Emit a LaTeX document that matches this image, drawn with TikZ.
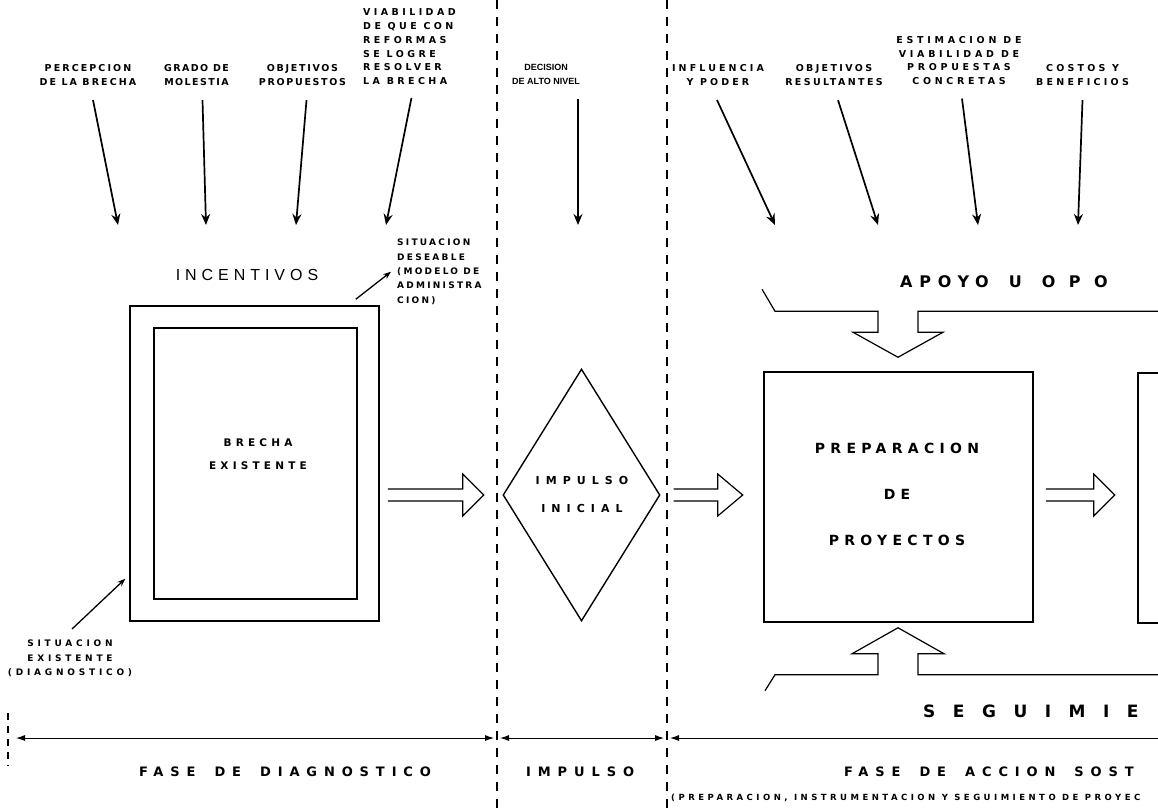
\documentclass[tikz,border=0pt]{standalone}
\usepackage{fontspec}
\setmainfont{Liberation Sans}
\newfontfamily\heavy{DejaVu Sans Bold}
\newfontfamily\narrowheavy{Liberation Sans Bold}
\usetikzlibrary{arrows.meta,shapes.geometric,calc}

% bold, letter-spaced lettering: size, tracking (percent of size), baselineskip
\newcommand\lsfont[3]{\heavy\fontsize{#1}{#3}\selectfont\addfontfeature{LetterSpace=#2}}
% wider gaps between words
\newcommand\widesp[1]{\spaceskip=#1pt\relax}
% horizontal outline arrow: start, shaft length, head length
\newcommand\fatarrow[3]{%
  \draw[hollow] (#1) ++(0,-6) -- ++(#2,0) -- ++(0,-15) -- ++(#3,21)
    -- ++(-#3,21) -- ++(0,-15) -- ++(-#2,0);}

\begin{document}
\begin{tikzpicture}[x=1pt,y=-1pt,
  box/.style={draw, line width=1.5pt, inner sep=0pt},
  feed/.style={-{Stealth[length=11pt,width=9pt]}, line width=1.7pt},
  ptr/.style={-{Stealth[length=8pt,width=6pt]}, line width=1.3pt},
  divider/.style={line width=1.3pt, dash pattern=on 9pt off 8pt},
  hollow/.style={line width=1.2pt, line join=miter},
  span/.style={line width=0.9pt},
  spantip/.tip={Latex[length=9pt,width=6pt]},
  toplbl/.style={font=\lsfont{9.5}{#1}{14}, inner sep=0pt, align=center, anchor=north},
  toplbl/.default=25,
  phase/.style={font=\lsfont{13}{53}{13}\widesp{19}, inner sep=0pt, anchor=west}]

\useasboundingbox (0,0) rectangle (1158,811);
\clip (0,0) rectangle (1158,811);

% phase dividers
\draw[divider] (497,0) -- (497,811);
\draw[divider] (667,0) -- (667,811);
\draw[line width=1.1pt, dash pattern=on 7pt off 6pt] (8,713) -- (8,766);

% ---- diagnosis phase ----
\node[toplbl=22] (perc) at (88,64.5) {PERCEPCION\\DE LA BRECHA};
\node[toplbl=15] (grado) at (196.5,64.5) {GRADO DE\\MOLESTIA};
\node[toplbl=18] (objp) at (302.5,64.5) {OBJETIVOS\\PROPUESTOS};
\node[toplbl, font=\lsfont{9.5}{36}{13.8}, align=left, anchor=north west] (viab) at (363,8.5)
  {VIABILIDAD\\DE QUE CON\\REFORMAS\\SE LOGRE\\RESOLVER\\LA BRECHA};

\coordinate (h1) at (118,225);
\coordinate (h2) at (206,225);
\coordinate (h3) at (296,225);
\coordinate (h4) at (386,225);
\draw[feed] ([shift={(5,14)}]perc.south) -- (h1);
\draw[feed] ([shift={(6,14)}]grado.south) -- (h2);
\draw[feed] ([shift={(4,14)}]objp.south) -- (h3);
\draw[feed] ([shift={(2,13)}]viab.south) -- (h4);

\node[font=\fontsize{16}{16}\selectfont\addfontfeature{LetterSpace=31}, inner sep=0pt]
  (incent) at (247,275) {INCENTIVOS};

\node[box, minimum width=249pt, minimum height=315pt] (outer) at (254.5,463.5) {};
\node[box, minimum width=203pt, minimum height=271pt] (inner) at (255.5,463.5) {};
\node[font=\lsfont{10.5}{40}{23}, align=center, inner sep=0pt] (gap) at (258,454.5)
  {BRECHA\\EXISTENTE};

\node[font=\lsfont{9}{25}{14.3}, align=left, anchor=north west, inner sep=0pt] (sitdes) at (397,239)
  {SITUACION\\DESEABLE\\(MODELO DE\\ADMINISTRA\\CION)};
\draw[ptr] ([shift={(-24,-6)}]outer.north east) -- ([xshift=-6pt]sitdes.west);

\node[font=\lsfont{9}{42}{14.5}, align=center, anchor=north, inner sep=0pt] (sitex) at (70,640)
  {SITUACION\\EXISTENTE\\(DIAGNOSTICO)};
\draw[ptr] ([shift={(2,-11)}]sitex.north) -- ([shift={(-4,-43)}]outer.south west);

% ---- impulse ----
\node[toplbl, font=\narrowheavy\fontsize{9}{14}\selectfont] (decis) at (546,64.5)
  {DECISION\\DE ALTO NIVEL};
\coordinate (h5) at (578,225);
\draw[feed] ([shift={(32,14)}]decis.south) -- (h5);

\node[draw, diamond, line width=1.4pt, minimum width=157pt, minimum height=252pt, inner sep=0pt]
  (dia) at (581.5,495) {};
\node[font=\lsfont{11}{55}{28}, align=center, inner sep=0pt] (imptxt) at (582,494) {IMPULSO\\INICIAL};

% ---- sustained action phase ----
\node[toplbl=33] (infl) at (718,64.5) {INFLUENCIA\\Y PODER};
\node[toplbl=25] (objr) at (834,64.5) {OBJETIVOS\\RESULTANTES};
\node[toplbl, font=\lsfont{9.5}{39}{13.5}] (estim) at (959,36.5)
  {ESTIMACION DE\\VIABILIDAD DE\\PROPUESTAS\\CONCRETAS};
\node[toplbl=34] (cost) at (1082.5,64.5) {COSTOS Y\\BENEFICIOS};

\coordinate (h6) at (775,225);
\coordinate (h7) at (878,225);
\coordinate (h8) at (978,225);
\coordinate (h9) at (1078,225);
\draw[feed] ([shift={(-1,14)}]infl.south) -- (h6);
\draw[feed] ([shift={(4,14)}]objr.south) -- (h7);
\draw[feed] ([shift={(3,14)}]estim.south) -- (h8);
\draw[feed] ([shift={(0,14)}]cost.south) -- (h9);

\node[anchor=west, inner sep=0pt, font=\lsfont{16}{42}{16}\widesp{20}] (apoyo) at (900,282)
  {APOYO U {\addfontfeature{LetterSpace=84}OPO}};

\node[box, minimum width=269pt, minimum height=250pt] (prep) at (898.5,497) {};
\node[font=\lsfont{14}{38}{46}, align=center, inner sep=0pt] (preptxt) at (897,494)
  {PREPARACION\\DE\\PROYECTOS};
\node[box, minimum width=80pt, minimum height=250pt, anchor=north west] (next) at (1137,372) {};

% outline arrows between stages
\coordinate (a1) at ([xshift=8pt]outer.east |- dia.west);
\coordinate (a2) at ([xshift=13pt]dia.east);
\coordinate (a3) at ([xshift=12pt]prep.east |- dia.east);
\fatarrow{a1}{75}{21}
\fatarrow{a2}{44}{25}
\fatarrow{a3}{48}{21}

% support / opposition feeding the project box
\coordinate (topTip) at ([shift={(-0.5,-14)}]prep.north);
\draw[hollow] (topTip) ++(-136,-68) -- ++(13,22) -- ++(103,0) -- ++(0,21) -- ++(-25,0)
  -- ++(45,25) -- ++(45,-25) -- ++(-25,0) -- ++(0,-21) -- ++(252,0);

% follow-up feeding the project box
\coordinate (botTip) at ([shift={(-0.5,5)}]prep.south);
\draw[hollow] (botTip) ++(-133,63) -- ++(10,-16) -- ++(103,0) -- ++(0,-21) -- ++(-26,0)
  -- ++(46,-26) -- ++(46,26) -- ++(-26,0) -- ++(0,21) -- ++(252,0);

\node[anchor=west, inner sep=0pt, font=\lsfont{17}{103}{17}] (seg) at (923,711) {SEGUIMIE};

% phase spans
\coordinate (s0) at (16,738);
\coordinate (s1) at (494,738);
\coordinate (s2) at (500,738);
\coordinate (s3) at (664,738);
\coordinate (s4) at (670,738);
\coordinate (s5) at (1170,738);
\draw[span, spantip-spantip] (s0) -- (s1);
\draw[span, spantip-spantip] (s2) -- (s3);
\draw[span, spantip-] (s4) -- (s5);

\node[phase] (fdiag) at (139,772) {FASE DE DIAGNOSTICO};
\node[phase] (fimp) at (526,772) {IMPULSO};
\node[phase] (facc) at (844,772) {FASE DE ACCION SOST};
\node[anchor=west, inner sep=0pt, font=\lsfont{8.5}{41}{8.5}] (fsub) at (671,798)
  {(PREPARACION, INSTRUMENTACION Y SEGUIMIENTO DE PROYEC};
\end{tikzpicture}
\end{document}
